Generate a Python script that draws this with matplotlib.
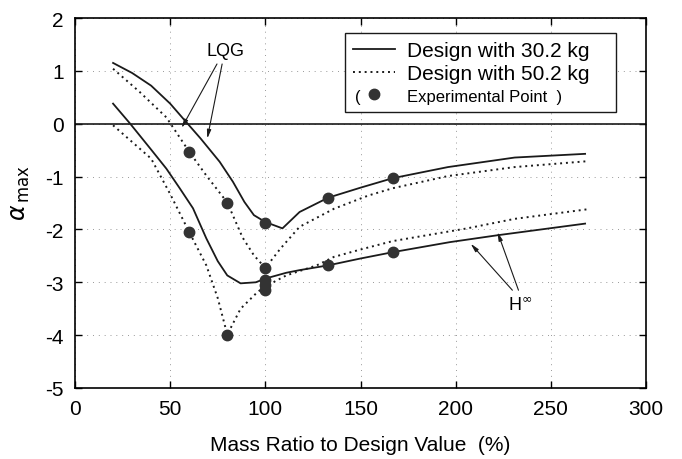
import matplotlib
matplotlib.use("Agg")
import matplotlib.pyplot as plt
from matplotlib.lines import Line2D

plt.rcParams['font.family'] = ['Liberation Sans', 'DejaVu Sans']
plt.rcParams['mathtext.fontset'] = 'dejavusans'
plt.rcParams['axes.unicode_minus'] = False

# LQG, design with 30.2 kg (solid)
x_lqg_302 = [20, 30, 40, 50, 57, 66, 76, 83, 89, 94, 100, 109, 118, 133, 150, 167, 196, 231, 268]
y_lqg_302 = [1.15, 0.96, 0.72, 0.38, 0.09, -0.28, -0.72, -1.10, -1.48, -1.73, -1.86, -1.98,
             -1.67, -1.40, -1.21, -1.03, -0.82, -0.64, -0.57]
# LQG, design with 50.2 kg (dotted)
x_lqg_502 = [20, 34, 48, 60, 69, 80, 88, 94, 100, 108, 118, 136, 154, 167, 196, 231, 269]
y_lqg_502 = [1.04, 0.60, 0.12, -0.53, -0.98, -1.49, -2.15, -2.49, -2.73, -2.36, -1.95,
             -1.61, -1.36, -1.22, -0.99, -0.82, -0.71]
# H-infinity, design with 30.2 kg (solid)
x_hinf_302 = [20, 29, 40, 48, 55, 62, 69, 75, 80, 87, 95, 100, 111, 118, 133, 150, 167, 197, 222, 268]
y_hinf_302 = [0.38, 0.0, -0.49, -0.85, -1.22, -1.60, -2.17, -2.60, -2.87, -3.02, -3.00, -2.93,
              -2.82, -2.77, -2.68, -2.55, -2.43, -2.24, -2.11, -1.89]
# H-infinity, design with 50.2 kg (dotted)
x_hinf_502 = [20, 40, 50, 60, 69, 75, 80, 87, 96, 101, 111, 127, 136, 150, 167, 206, 231, 269]
y_hinf_502 = [-0.03, -0.66, -1.33, -2.05, -2.68, -3.30, -3.99, -3.50, -3.18, -3.06, -2.87,
              -2.68, -2.52, -2.38, -2.22, -1.98, -1.80, -1.62]

# experimental points
exp_x = [60, 80, 100, 133, 167, 60, 80, 100, 100, 100, 100, 133, 167]
exp_y = [-0.53, -1.50, -1.87, -1.40, -1.03, -2.05, -3.99, -2.73, -2.95, -3.05, -3.15, -2.68, -2.43]

fig = plt.figure(figsize=(6.82, 4.6), dpi=100)
ax = fig.add_axes([75 / 682, 71 / 460, 571 / 682, 370 / 460])

lc = '#1a1a1a'
dots = (0, (1, 2))
ax.plot(x_lqg_302, y_lqg_302, color=lc, lw=1.3)
ax.plot(x_lqg_502, y_lqg_502, color=lc, lw=1.4, ls=dots)
ax.plot(x_hinf_302, y_hinf_302, color=lc, lw=1.3)
ax.plot(x_hinf_502, y_hinf_502, color=lc, lw=1.4, ls=dots)
ax.plot(exp_x, exp_y, 'o', color='#333333', ms=7.5, zorder=5)
ax.axhline(0, color=lc, lw=1.2)

ax.set_xlim(0, 300)
ax.set_ylim(-5, 2)
ax.set_xticks([0, 50, 100, 150, 200, 250, 300])
ax.set_yticks([-5, -4, -3, -2, -1, 0, 1, 2])
ax.tick_params(direction='in', length=5, width=1, top=True, right=True, labelsize=15)
ax.tick_params(axis='x', pad=8)
ax.tick_params(axis='y', pad=8)
for s in ax.spines.values():
    s.set_linewidth(1.2)
ax.grid(True, ls=(0, (1, 5)), color='#999999', lw=0.7)

ax.set_xlabel('Mass Ratio to Design Value  (%)', fontsize=15, labelpad=12)
ax.set_ylabel(r'$\alpha_{\,\mathrm{max}}$', fontsize=17)
ax.yaxis.set_label_coords(-0.075, 0.53)

arrow = dict(arrowstyle='-|>,head_length=0.5,head_width=0.12', color=lc, lw=0.8, shrinkA=0, shrinkB=0)
ax.text(79, 1.38, 'LQG', fontsize=13, ha='center', va='center')
ax.annotate('', xy=(56, -0.08), xytext=(74.6, 1.13), arrowprops=arrow)
ax.annotate('', xy=(69.5, -0.28), xytext=(77.3, 1.13), arrowprops=arrow)
ax.text(234, -3.43, r'H$^{\infty}$', fontsize=13, ha='center', va='center')
ax.annotate('', xy=(207.9, -2.27), xytext=(229.8, -3.15), arrowprops=arrow)
ax.annotate('', xy=(222, -2.05), xytext=(233, -3.15), arrowprops=arrow)

handles = [Line2D([], [], color=lc, lw=1.3),
           Line2D([], [], color=lc, lw=1.4, ls=dots),
           Line2D([], [], color='#333333', marker='o', ls='none', ms=7.5)]
labels = ['Design with 30.2 kg', 'Design with 50.2 kg', 'Experimental Point  )']
leg = ax.legend(handles, labels, loc='upper left', mode='expand',
                bbox_to_anchor=(0.473, 0.749, 0.474, 0.21),
                fontsize=15, frameon=True, fancybox=False, framealpha=1,
                edgecolor=lc, handlelength=2.0, handletextpad=0.6,
                labelspacing=0.18, borderpad=0.38, borderaxespad=0)
leg.get_frame().set_linewidth(1.0)
leg.get_texts()[2].set_fontsize(12)

# opening bracket in front of the marker, on the same row as the third label
fig.canvas.draw()
bb = leg.get_texts()[2].get_window_extent()
yc = ax.transAxes.inverted().transform((0, (bb.y0 + bb.y1) / 2))[1]
ax.text(0.49, yc, '(', transform=ax.transAxes, fontsize=12, ha='left', va='center', zorder=10)

fig.savefig('out.png', dpi=100)
